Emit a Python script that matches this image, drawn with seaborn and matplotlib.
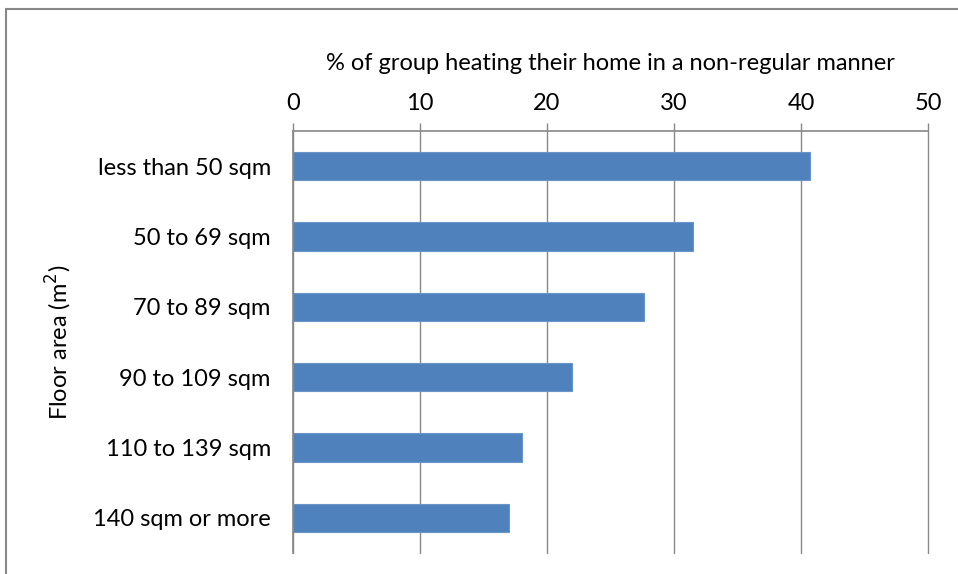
import pandas as pd
import matplotlib.pyplot as plt
import seaborn as sns
from matplotlib.patches import Rectangle

# data
areas = ["less than 50 sqm", "50 to 69 sqm", "70 to 89 sqm",
         "90 to 109 sqm", "110 to 139 sqm", "140 sqm or more"]
pct_irregular = [40.7, 31.5, 27.6, 22.0, 18.0, 17.0]

df = pd.DataFrame({"area": areas, "pct": pct_irregular})

sns.set_style("white")
plt.rcParams["font.family"] = ["Lato", "DejaVu Sans"]
plt.rcParams["text.color"] = "black"
plt.rcParams["axes.labelcolor"] = "black"
plt.rcParams["xtick.labelcolor"] = "black"
plt.rcParams["ytick.labelcolor"] = "black"

fig, ax = plt.subplots(figsize=(9.58, 5.74), dpi=100)
fig.subplots_adjust(left=293 / 958, right=928 / 958, top=1 - 131 / 574, bottom=1 - 553 / 574)

sns.barplot(data=df, x="pct", y="area", color="#4F81BD", width=0.4,
            edgecolor="#6A95C8", linewidth=0.8, saturation=1, ax=ax)

fs = 17

# x axis on top
ax.set_xlim(0, 50)
ax.set_xticks([0, 10, 20, 30, 40, 50])
ax.xaxis.tick_top()
ax.xaxis.set_label_position("top")
ax.set_xlabel("% of group heating their home in a non-regular manner", fontsize=fs, labelpad=17)
ax.tick_params(axis="x", length=6, width=1, color="#888888", labelsize=fs, pad=6)

# category boundaries get the ticks, labels sit in the middle
ax.set_ylim(len(areas) - 0.5, -0.5)
ax.set_yticks([i - 0.5 for i in range(len(areas) + 1)])
ax.set_yticklabels([])
ax.set_yticks(range(len(areas)), minor=True)
ax.set_yticklabels(areas, minor=True, fontsize=fs)
ax.tick_params(axis="y", which="major", length=6, width=1, color="#888888")
ax.tick_params(axis="y", which="minor", length=0, pad=16)
ax.set_ylabel("Floor area (m$^2$)", fontsize=fs, labelpad=14)

ax.grid(axis="x", color="#888888", linewidth=1)
for gl in ax.get_xgridlines():
    gl.set_clip_on(False)
ax.set_axisbelow(True)
for side in ["right", "bottom"]:
    ax.spines[side].set_visible(False)
for side in ["top", "left"]:
    ax.spines[side].set_color("#888888")
    ax.spines[side].set_linewidth(1.2)

# outer chart frame
fig.patches.append(Rectangle((6 / 958, -0.05), 1.0, 1.05 - 9 / 574, transform=fig.transFigure,
                             fill=False, edgecolor="#888888", linewidth=1.5))

fig.savefig("out.png", dpi=100)
